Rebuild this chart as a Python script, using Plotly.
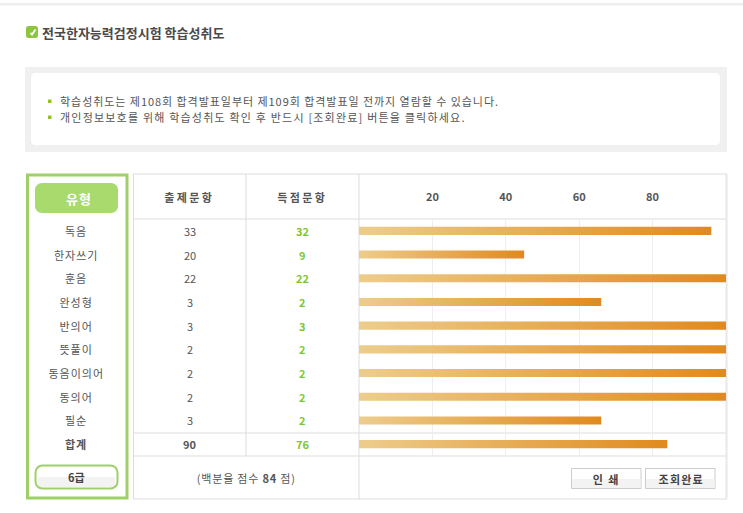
import json
import plotly.graph_objects as go

# Score report: question types, question counts and achievement rate per type
types = ["독음", "한자쓰기", "훈음", "완성형", "반의어", "뜻풀이", "동음이의어", "동의어", "필순", "합계"]
asked = [33, 20, 22, 3, 3, 2, 2, 2, 3, 90]
scored = [32, 9, 22, 2, 3, 2, 2, 2, 2, 76]
rate = [96, 45, 100, 66, 100, 100, 100, 100, 66, 84]
rate_ticks = [20, 40, 60, 80]

title_text = "전국한자능력검정시험 학습성취도"
notices = [
    "학습성취도는 제108회 합격발표일부터 제109회 합격발표일 전까지 열람할 수 있습니다.",
    "개인정보보호를 위해 학습성취도 확인 후 반드시 [조회완료] 버튼을 클릭하세요.",
]
grade_label = "6급"
col_heads = ["출제문항", "득점문항"]
footer_plain = "(백분율 점수 84 점)"
footer_text = "(백분율 점수 <b>84</b> 점)"
button_labels = ["인 쇄", "조회완료"]

W, H = 743, 513
FONT = "Noto Sans CJK KR"
TEXT = "#555555"
GREEN = "#9fd068"
LINE = "#dddddd"

# Extra tracking per text, in pixels
tracking = {
    notices[0]: 0.95,
    notices[1]: 1.2,
    col_heads[0]: 2.4,
    col_heads[1]: 2.4,
    footer_plain: 0.8,
    button_labels[0]: 1.5,
    button_labels[1]: 1.2,
    "유형": 1,
    "한자쓰기": 1, "동음이의어": 1, "완성형": 1, "반의어": 1, "뜻풀이": 1, "동의어": 1,
    "독음": 1, "훈음": 1, "필순": 1, "합계": 1,
}


def fx(x):
    return x / W


def fy(y):
    return 1 - y / H


def rect(x0, y0, x1, y1, fill=None, line=None, width=1):
    return dict(type="rect", xref="paper", yref="paper", x0=fx(x0), x1=fx(x1), y0=fy(y0), y1=fy(y1),
                fillcolor=fill or "rgba(0,0,0,0)", line=dict(color=line or "rgba(0,0,0,0)", width=width if line else 0),
                layer="below")


def rounded(x0, y0, x1, y1, r, fill=None, line=None, width=1):
    k = r * 0.45
    pts = [
        f"M{fx(x0 + r)},{fy(y0)}", f"L{fx(x1 - r)},{fy(y0)}",
        f"C{fx(x1 - k)},{fy(y0)} {fx(x1)},{fy(y0 + k)} {fx(x1)},{fy(y0 + r)}",
        f"L{fx(x1)},{fy(y1 - r)}",
        f"C{fx(x1)},{fy(y1 - k)} {fx(x1 - k)},{fy(y1)} {fx(x1 - r)},{fy(y1)}",
        f"L{fx(x0 + r)},{fy(y1)}",
        f"C{fx(x0 + k)},{fy(y1)} {fx(x0)},{fy(y1 - k)} {fx(x0)},{fy(y1 - r)}",
        f"L{fx(x0)},{fy(y0 + r)}",
        f"C{fx(x0)},{fy(y0 + k)} {fx(x0 + k)},{fy(y0)} {fx(x0 + r)},{fy(y0)}Z",
    ]
    return dict(type="path", xref="paper", yref="paper", path="".join(pts),
                fillcolor=fill or "rgba(0,0,0,0)", line=dict(color=line or "rgba(0,0,0,0)", width=width if line else 0),
                layer="below")


def hline(y, x0, x1, color=LINE, width=1):
    return dict(type="line", xref="paper", yref="paper", x0=fx(x0), x1=fx(x1), y0=fy(y), y1=fy(y),
                line=dict(color=color, width=width), layer="below")


def vline(x, y0, y1, color=LINE, width=1):
    return dict(type="line", xref="paper", yref="paper", x0=fx(x), x1=fx(x), y0=fy(y0), y1=fy(y1),
                line=dict(color=color, width=width), layer="below")


def label(x, y, text, size=11, color=TEXT, anchor="center", yref="paper", bold=False):
    return dict(x=fx(x), xref="paper", y=fy(y) if yref == "paper" else y, yref=yref, text=text, showarrow=False,
                xanchor=anchor, yanchor="middle", align=anchor if anchor != "center" else "center",
                font=dict(family=FONT, size=size, color=color, weight="bold" if bold else "normal"))


shapes = [
    rect(0, 3, W, 5.5, fill="#eeeeee"),
    # title badge
    rounded(26, 26, 38, 38, 2.5, fill="#8cc63f"),
    dict(type="path", xref="paper", yref="paper", layer="below",
         path=f"M{fx(30.5)},{fy(33)}L{fx(32)},{fy(34.5)}L{fx(35.5)},{fy(29.5)}",
         line=dict(color="#ffffff", width=1.8), fillcolor="rgba(0,0,0,0)"),
    # notice box
    rect(25, 67, 727, 152, fill="#f0f0f0"),
    rounded(31, 73, 720, 145, 4, fill="#ffffff"),
    rect(48, 99.5, 51.5, 103, fill="#93c11f"),
    rect(48, 115.5, 51.5, 119, fill="#93c11f"),
    # left panel
    rect(27.5, 175, 127, 498, line=GREEN, width=3),
    rounded(35, 183, 118, 213, 7, fill="#a8da6e"),
    rect(38, 477, 115, 487, fill="#f3f3f3"),
    rounded(35.5, 465.5, 117.5, 488.5, 7, line=GREEN, width=2),
    # table frame
    hline(174, 133, 727), hline(219, 133, 727), hline(433, 133, 727), hline(456, 133, 727), hline(499, 133, 727),
    vline(133.5, 174, 499), vline(246, 174, 456), vline(359, 174, 499),
    vline(726.5, 174, 499, color="#e8e8e8", width=2),
    # buttons
    rect(571.5, 468.5, 641, 488.5, fill="#ffffff", line="#cccccc"),
    rect(572, 479, 640.5, 488, fill="#f3f3f3"),
    rect(645.5, 468.5, 715, 488.5, fill="#ffffff", line="#cccccc"),
    rect(646, 479, 714.5, 488, fill="#f3f3f3"),
]

annotations = [
    label(40, 32, title_text, size=13, color="#4a4a4a", anchor="left", bold=True),
    label(58, 101, notices[0], anchor="left"),
    label(58, 117, notices[1], anchor="left"),
    label(79, 198, "유형", size=13, color="#ffffff", bold=True),
    label(76.5, 477, grade_label, color="#444444", bold=True),
    label(189, 197, col_heads[0], bold=True),
    label(302, 197, col_heads[1], bold=True),
    label(246.5, 478, footer_text),
    label(606.5, 479, button_labels[0], color="#444444", bold=True),
    label(681, 479, button_labels[1], color="#444444", bold=True),
]

# Table rows follow the bar axis, so every row's text sits on its category
for name, a, s in zip(types, asked, scored):
    total = name == "합계"
    annotations.append(label(76, name, name, yref="y", bold=total))
    annotations.append(label(189.5, name, str(a), yref="y", bold=total))
    annotations.append(label(302, name, str(s), color="#7dc72e", yref="y", bold=True))

fig = go.Figure(go.Bar(
    y=types, x=rate, orientation="h", width=0.34,
    marker=dict(color="#e5a850", line=dict(width=0)),
    hoverinfo="skip",
))

fig.update_layout(
    width=W, height=H, margin=dict(l=0, r=0, t=0, b=0),
    paper_bgcolor="#ffffff", plot_bgcolor="rgba(0,0,0,0)",
    showlegend=False, shapes=shapes, annotations=annotations,
    xaxis=dict(domain=[fx(359), fx(726)], range=[0, 100], side="top",
               tickvals=rate_ticks, showgrid=True, gridcolor="#eeeeee", gridwidth=1,
               ticks="", zeroline=False, showline=False, ticklabelstandoff=15,
               tickfont=dict(family=FONT, size=11, color=TEXT, weight="bold")),
    yaxis=dict(domain=[fy(456), fy(219)], type="category", categoryorder="array", categoryarray=types,
               range=[9.5, -0.5], showticklabels=False, showgrid=False, zeroline=False, ticks=""),
)

# Each bar fades from pale sand to orange along its own length; table texts get their tracking
page_js = """
var gd = document.getElementById('{plot_id}');
var tracking = __TRACKING__;
function dressPage() {
  var svg = gd.querySelector('svg.main-svg');
  if (!svg) return;
  var ns = 'http://www.w3.org/2000/svg';
  if (!document.getElementById('rateFade')) {
    var g = document.createElementNS(ns, 'linearGradient');
    g.setAttribute('id', 'rateFade');
    [['0%', '#edcd8c'], ['100%', '#e08a1e']].forEach(function (s) {
      var st = document.createElementNS(ns, 'stop');
      st.setAttribute('offset', s[0]);
      st.setAttribute('stop-color', s[1]);
      g.appendChild(st);
    });
    var defs = svg.querySelector('defs') || svg.insertBefore(document.createElementNS(ns, 'defs'), svg.firstChild);
    defs.appendChild(g);
  }
  gd.querySelectorAll('.barlayer .point path').forEach(function (p) {
    p.style.fill = 'url(#rateFade)';
  });
  gd.querySelectorAll('.annotation-text').forEach(function (t) {
    var px = tracking[t.textContent];
    if (px) t.style.letterSpacing = px + 'px';
  });
}
dressPage();
gd.on('plotly_afterplot', dressPage);
""".replace("__TRACKING__", json.dumps(tracking, ensure_ascii=False))

fig.write_html("out.html", post_script=page_js, config=dict(displayModeBar=False))
